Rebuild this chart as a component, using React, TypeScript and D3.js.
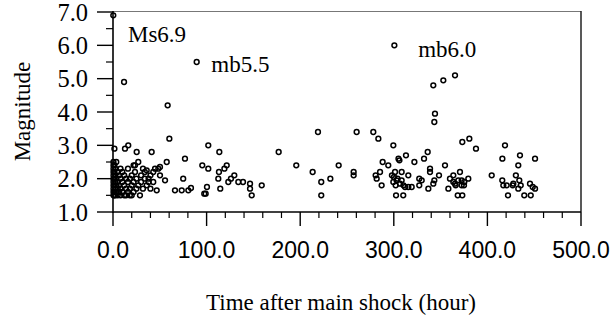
import React, { useEffect, useRef } from "react";
import * as d3 from "d3";

// Aftershock data: time after main shock (hours) and magnitude
const times: number[] = [
  0.3, 0.5, 0.5, 0.5, 0.5, 0.5, 0.5, 0.5, 0.5, 0.5, 0.5, 0.5,
  1.5, 1.5, 1.5, 1.5, 1.5, 1.5, 1.5,
  2.5, 2.5, 2.5, 2.5, 2.5,
  3.5, 3.5, 3.5, 3.5,
  5, 5, 5, 5,
  6.5, 6.5, 6.5,
  8, 8, 8, 8,
  10, 10, 10,
  11.8, 12.8, 16.3, 12, 12, 12, 14, 14, 14, 16, 16, 16, 18, 18, 18, 20, 20, 20,
  22, 22, 22, 23.5, 23.5, 25.3, 25, 25, 27, 27, 28.8, 30, 30, 32, 32, 34, 34, 36, 36,
  38, 38, 40, 40, 41.3, 43, 43, 44.9, 46.7, 48.4, 50.2, 50.2, 55.6, 57.4, 58.4, 60.2,
  66.2, 73.4, 80.5, 83.3, 75, 76.9, 89.4, 95.4, 101.8, 101.8, 99, 97.5, 100.4,
  113.6, 121.5, 119, 113.2, 112.5, 114.6, 123.2, 126, 129.6, 133.9, 138.9, 146.4, 146.4, 148.2, 158.9,
  177, 195.8, 213.3, 219, 222.5, 222.5, 232.2, 241.1, 257.1, 257.1, 260.3, 278.1, 283.5,
  280.6, 281.7, 285.3, 287, 288.1, 294.1, 299.5, 300.6,
  305, 306, 313, 322, 301.3, 308.4, 300.2, 303, 308.4, 315.5, 310.3, 315.5, 319.1, 299.5,
  306.6, 312, 302.4, 310.1, 304, 302, 298, 327.2, 329.8, 327.2, 336.9, 332.3, 336.2,
  338.7, 338.7, 343.3, 342.2, 342.2, 343.3, 344, 348.3, 354.7, 352.9, 365.4,
  358.3, 360, 363.6, 365.4, 370.7, 372.5, 375, 379.6, 368.3, 373.2, 363.6, 368.9, 375.3,
  366.1, 372.5, 373.2, 380.7, 387.8,
  404.6, 416, 418.8, 415.9, 417, 420.6, 427, 422, 430.4, 433, 434.8, 427.7, 433, 434.1,
  435.6, 439.4, 446.3, 445.5, 448.4, 450.9, 450.9,
];
const magnitudes: number[] = [
  6.9, 2.5, 2.4, 2.3, 2.2, 2.1, 2.0, 1.9, 1.8, 1.7, 1.6, 1.5,
  2.9, 2.4, 2.2, 2.0, 1.8, 1.6, 1.5,
  2.3, 2.1, 1.9, 1.7, 1.5,
  2.5, 2.0, 1.8, 1.6,
  2.2, 1.9, 1.7, 1.5,
  2.1, 1.8, 1.6,
  2.3, 2.0, 1.7, 1.5,
  1.9, 1.6, 2.2,
  4.9, 2.9, 3.0, 1.5, 1.8, 2.1, 1.7, 2.0, 1.5, 1.6, 2.3, 1.9, 1.5, 2.0, 1.7, 1.8, 2.1, 1.5,
  2.4, 1.6, 1.9, 2.4, 2.2, 2.8, 2.0, 1.7, 2.5, 1.8, 1.5, 2.1, 1.9, 2.3, 1.7, 2.2, 2.0, 2.25, 1.8,
  2.0, 1.9, 2.1, 1.7, 2.8, 2.2, 1.9, 2.3, 1.65, 2.3, 2.35, 2.1, 1.95, 2.5, 4.2, 3.2,
  1.65, 1.65, 1.65, 1.72, 2.0, 2.6, 5.5, 2.4, 3.0, 2.3, 1.55, 1.55, 1.75,
  2.8, 2.4, 2.3, 2.2, 2.0, 1.7, 1.9, 2.0, 2.1, 1.9, 1.9, 1.85, 1.7, 1.5, 1.8,
  2.8, 2.4, 2.2, 3.4, 1.9, 1.5, 2.0, 2.4, 2.2, 2.1, 3.4, 3.4, 3.2,
  2.1, 2.0, 2.2, 1.8, 2.5, 2.4, 3.0, 6.0,
  2.6, 2.55, 2.7, 2.5, 2.2, 2.2, 2.05, 1.95, 1.95, 2.1, 1.8, 1.75, 1.75, 1.9,
  1.85, 1.75, 1.5, 1.5, 2.0, 1.8, 2.1, 2.0, 1.95, 1.8, 1.7, 2.6, 2.8,
  2.3, 2.2, 1.95, 1.85, 4.8, 3.7, 3.95, 2.1, 2.4, 4.95, 5.1,
  1.7, 2.0, 2.1, 1.85, 2.2, 1.95, 1.8, 2.0, 1.5, 1.5, 1.9, 1.95, 1.9,
  1.8, 1.8, 3.1, 3.2, 2.9,
  2.1, 2.6, 3.0, 1.95, 1.8, 1.8, 1.8, 1.5, 2.1, 2.4, 2.7, 1.85, 1.7, 1.95,
  1.8, 1.5, 1.5, 1.85, 1.75, 1.7, 2.6,
];

const xTicks: number[] = [0, 100, 200, 300, 400, 500];
const xTickLabels: string[] = ["0.0", "100.0", "200.0", "300.0", "400.0", "500.0"];
const yTicks: number[] = [1, 2, 3, 4, 5, 6, 7];
const yTickLabels: string[] = ["1.0", "2.0", "3.0", "4.0", "5.0", "6.0", "7.0"];

const annotations: { text: string; t: number; m: number }[] = [
  { text: "Ms6.9", t: 16, m: 6.1 },
  { text: "mb5.5", t: 105, m: 5.2 },
  { text: "mb6.0", t: 326, m: 5.65 },
];

const W = 611;
const H = 322;

export default function App() {
  const ref = useRef<SVGSVGElement>(null);

  useEffect(() => {
    const svg = d3.select(ref.current);
    svg.selectAll("*").remove();

    const x = d3.scaleLinear().domain([0, 500]).range([113, 581]);
    const y = d3.scaleLinear().domain([1, 7]).range([212, 12]);
    const serif = "'Liberation Serif', 'Times New Roman', serif";
    const sans = "'Liberation Sans', Arial, sans-serif";

    // frame: top (light) and right
    svg.append("line").attr("x1", x(0)).attr("x2", x(500)).attr("y1", 11.5).attr("y2", 11.5)
      .attr("stroke", "#777").attr("stroke-width", 1);
    svg.append("line").attr("x1", x(500)).attr("x2", x(500)).attr("y1", 11).attr("y2", y(1))
      .attr("stroke", "#222").attr("stroke-width", 1.5);

    // axes lines
    svg.append("line").attr("x1", x(0)).attr("x2", x(0)).attr("y1", 11).attr("y2", y(1) + 1)
      .attr("stroke", "#000").attr("stroke-width", 1.6);
    svg.append("line").attr("x1", x(0)).attr("x2", x(500)).attr("y1", y(1)).attr("y2", y(1))
      .attr("stroke", "#000").attr("stroke-width", 1.6);

    // x ticks: major and minor
    const xMinor = d3.range(0, 501, 20).filter((v) => v % 100 !== 0);
    svg.selectAll(".xmin").data(xMinor).enter().append("line")
      .attr("x1", (d) => x(d)).attr("x2", (d) => x(d))
      .attr("y1", y(1)).attr("y2", y(1) + 6)
      .attr("stroke", "#000").attr("stroke-width", 1.2);
    svg.selectAll(".xmaj").data(xTicks).enter().append("line")
      .attr("x1", (d) => x(d)).attr("x2", (d) => x(d))
      .attr("y1", y(1)).attr("y2", y(1) + 14)
      .attr("stroke", "#000").attr("stroke-width", 1.4);
    svg.selectAll(".xlab").data(xTicks).enter().append("text")
      .attr("x", (d) => x(d)).attr("y", 258)
      .attr("text-anchor", "middle")
      .attr("font-family", sans).attr("font-size", 23)
      .attr("fill", "#000")
      .text((_, i) => xTickLabels[i]);

    // y ticks
    const yMinor = d3.range(1.5, 7, 1);
    svg.selectAll(".ymin").data(yMinor).enter().append("line")
      .attr("x1", x(0) - 7).attr("x2", x(0))
      .attr("y1", (d) => y(d)).attr("y2", (d) => y(d))
      .attr("stroke", "#000").attr("stroke-width", 1.2);
    svg.selectAll(".ymaj").data(yTicks).enter().append("line")
      .attr("x1", x(0) - 16).attr("x2", x(0))
      .attr("y1", (d) => y(d)).attr("y2", (d) => y(d))
      .attr("stroke", "#000").attr("stroke-width", 1.4);
    svg.selectAll(".ylab").data(yTicks).enter().append("text")
      .attr("x", 88).attr("y", (d) => y(d) + 8.5)
      .attr("text-anchor", "end")
      .attr("font-family", serif).attr("font-size", 24.5)
      .attr("fill", "#000")
      .text((_, i) => yTickLabels[i]);

    // axis titles
    svg.append("text")
      .attr("transform", `translate(30,${(11 + 212) / 2}) rotate(-90)`)
      .attr("text-anchor", "middle")
      .attr("font-family", serif).attr("font-size", 23)
      .attr("fill", "#000")
      .text("Magnitude");
    svg.append("text")
      .attr("x", 341).attr("y", 310)
      .attr("text-anchor", "middle")
      .attr("font-family", serif).attr("font-size", 23)
      .attr("fill", "#000")
      .text("Time after main shock (hour)");

    // points
    const pts = times.map((t, i) => ({ t, m: magnitudes[i] }));
    svg.selectAll(".pt").data(pts).enter().append("circle")
      .attr("cx", (d) => x(d.t)).attr("cy", (d) => y(d.m))
      .attr("r", 2.4)
      .attr("fill", "none").attr("stroke", "#000").attr("stroke-width", 1.5);

    // annotations
    svg.selectAll(".ann").data(annotations).enter().append("text")
      .attr("x", (d) => x(d.t)).attr("y", (d) => y(d.m))
      .attr("font-family", serif).attr("font-size", 23)
      .attr("fill", "#000")
      .text((d) => d.text);
  }, []);

  return (
    <svg
      ref={ref}
      width={W}
      height={H}
      style={{ position: "absolute", left: 0, top: 0, background: "#fff" }}
    />
  );
}
